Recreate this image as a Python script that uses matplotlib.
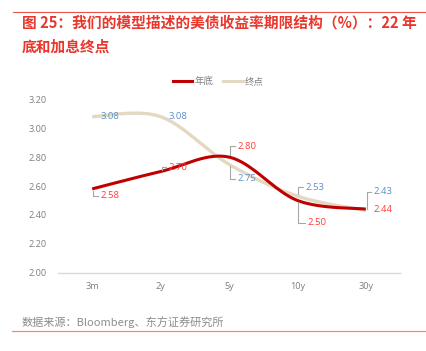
import matplotlib
matplotlib.use('Agg')
import matplotlib.pyplot as plt
import numpy as np
from matplotlib.lines import Line2D

plt.rcParams['font.family'] = ['Noto Sans CJK SC', 'DejaVu Sans']

# data
tenors = ['3m', '2y', '5y', '10y', '30y']
year_end = [2.58, 2.70, 2.80, 2.50, 2.44]     # 年底
terminal = [3.08, 3.08, 2.75, 2.53, 2.43]     # 终点
yticks = [2.00, 2.20, 2.40, 2.60, 2.80, 3.00, 3.20]

# label offsets in pixels (dx, dy downwards) and whether a leader line is drawn
ye_offsets = [(8, 7, True), (8, -4.5, True), (8, -11, True), (10, 22.5, True), (7.5, 0, False)]
tm_offsets = [(8, 0, False), (8, 0, False), (8, 14.6, True), (8, -9, True), (7.5, -18.6, True)]

RED_LINE = '#C00000'
RED_TXT = '#FF3B3B'
BEIGE = '#E3D9C3'
BLUE_TXT = '#5B8FC9'
GRAY = '#8C8C8C'


def smooth(xs, ys, n=40):
    # Excel-like smoothed line: cubic bezier between points
    P = np.column_stack([xs, ys]).astype(float)
    out = []
    for i in range(len(P) - 1):
        p0 = P[i - 1] if i > 0 else P[i]
        p3 = P[i + 2] if i + 2 < len(P) else P[i + 1]
        c1 = P[i] + (P[i + 1] - p0) / 6
        c2 = P[i + 1] - (p3 - P[i]) / 6
        t = np.linspace(0, 1, n)[:, None]
        seg = ((1 - t) ** 3) * P[i] + 3 * ((1 - t) ** 2) * t * c1 + 3 * (1 - t) * t ** 2 * c2 + t ** 3 * P[i + 1]
        out.append(seg)
    out = np.vstack(out)
    return out[:, 0], out[:, 1]


fig = plt.figure(figsize=(4.26, 3.51), dpi=100)
ax = fig.add_axes([58 / 426, 78.3 / 351, 342 / 426, 173.4 / 351])

x = np.arange(len(tenors))
sx, sy = smooth(x, terminal)
ax.plot(sx, sy, color=BEIGE, lw=2.4, solid_capstyle='butt', label='终点', zorder=2)
sx, sy = smooth(x, year_end)
ax.plot(sx, sy, color=RED_LINE, lw=2.2, solid_capstyle='butt', label='年底', zorder=3)

ax.set_xlim(-0.5, len(tenors) - 0.5)
ax.set_ylim(2.0, 3.2)
ax.set_xticks(x)
ax.set_xticklabels(tenors)
ax.set_yticks(yticks)
ax.set_yticklabels(['%.2f' % v for v in yticks])
ax.tick_params(length=0, labelsize=6.6, colors='#7F7F7F', pad=8)
ax.tick_params(axis='x', pad=7)
for lab in ax.get_xticklabels() + ax.get_yticklabels():
    lab.set_family('Open Sans')
for s in ['top', 'right', 'left']:
    ax.spines[s].set_visible(False)
ax.spines['bottom'].set_color('#D9D9D9')
ax.spines['bottom'].set_linewidth(1)
ax.patch.set_alpha(0)

fig.canvas.draw()
inv = fig.transFigure.inverted()


def label_points(values, offsets, color):
    for i, v in enumerate(values):
        dx, dy, leader = offsets[i]
        px, py = ax.transData.transform((i, v))
        tx, ty = px + dx, py - dy
        fx, fy = inv.transform((tx, ty))
        fig.text(fx, fy, '%.2f' % v, color=color, fontsize=6.8, family='Open Sans',
                 ha='left', va='center')
        if leader:
            gap = 2 if dy > 0 else -2
            lx = px + 1
            pts = [(lx, py - gap), (lx, ty), (tx - 2.5, ty)]
            fpts = inv.transform(pts)
            fig.add_artist(Line2D(fpts[:, 0], fpts[:, 1], color='#A6A6A6', lw=0.8))


label_points(year_end, ye_offsets, RED_TXT)
label_points(terminal, tm_offsets, BLUE_TXT)

handles = [Line2D([], [], color=RED_LINE, lw=2.2), Line2D([], [], color=BEIGE, lw=2.2)]
fig.legend(handles, ['年底', '终点'], loc='center', bbox_to_anchor=(218 / 426, 1 - 81.5 / 351),
           ncol=2, frameon=False, fontsize=6.8, handlelength=2.1, handletextpad=0.2,
           columnspacing=1.0, labelcolor='#7F7F7F')

# title, source and frame lines
fig.add_artist(Line2D([13 / 426, 1], [1 - 12 / 351] * 2, color='#E8544A', lw=0.8))
fig.text(22 / 426, 1 - 23 / 351, '图 25：我们的模型描述的美债收益率期限结构（%）：22 年',
         color='#E8372C', fontsize=10.6, fontweight='bold', ha='left', va='center')
fig.text(22 / 426, 1 - 47 / 351, '底和加息终点',
         color='#E8372C', fontsize=10.6, fontweight='bold', ha='left', va='center')
fig.text(22 / 426, 1 - 322 / 351, '数据来源：Bloomberg、东方证券研究所',
         color=GRAY, fontsize=8.0, ha='left', va='center')
fig.add_artist(Line2D([12 / 426, 1], [1 - 330.5 / 351] * 2, color='#F08A80', lw=0.9))

fig.savefig('out.png', dpi=100)
